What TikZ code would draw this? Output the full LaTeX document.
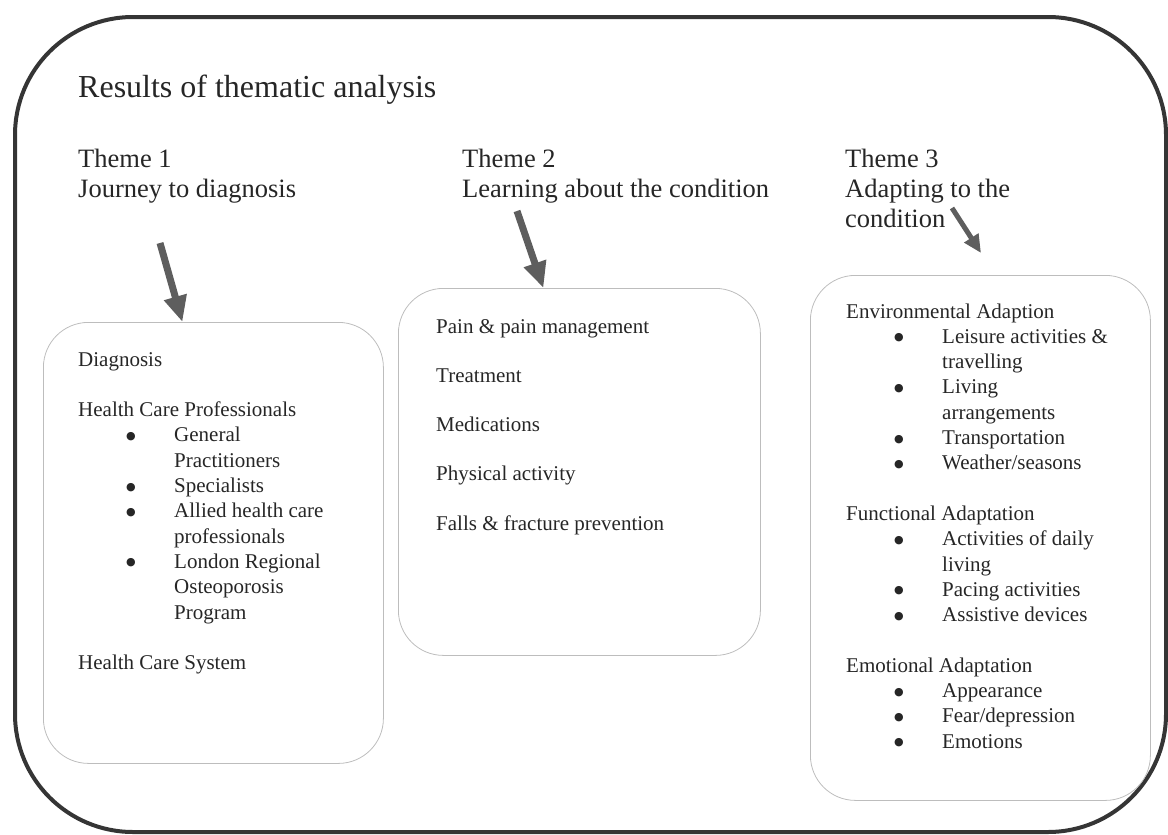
\documentclass[tikz,border=0pt]{standalone}
\usepackage{fontspec}
\setmainfont{Liberation Serif}
\newfontfamily\dotfont{DejaVu Sans}
\usetikzlibrary{arrows.meta, positioning}
\definecolor{framegray}{HTML}{353535}
\definecolor{boxgray}{HTML}{BDBDBD}
\definecolor{arrowgray}{HTML}{5E5E5E}
\definecolor{inkgray}{HTML}{262626}
\newcommand{\lines}[1]{\begin{tabular}[t]{@{}l@{}}#1\end{tabular}}
\newcommand{\itm}{\makebox[96pt][l]{\hspace*{48pt}\raisebox{2.5pt}{\dotfont\fontsize{11}{12}\selectfont ●}}}
\newcommand{\cnt}{\hspace*{96pt}}

\begin{document}
\begin{tikzpicture}[
  x=1pt, y=-1pt,
  frame/.style={draw=framegray, line width=4pt, rounded corners=118pt, anchor=north west, inner sep=0pt},
  themebox/.style={draw=boxgray, line width=0.8pt, rounded corners=45pt, anchor=north west, inner sep=0pt},
  titletext/.style={anchor=base west, inner sep=0pt, text=inkgray, font=\fontsize{32}{38}\selectfont},
  themetext/.style={anchor=base west, inner sep=0pt, text=inkgray, font=\fontsize{26.5}{30}\selectfont},
  listtext/.style={anchor=base west, inner sep=0pt, text=inkgray, font=\fontsize{21}{25.3}\selectfont},
  bigarr/.style={arrowgray, line width=7pt, -{Triangle[length=26pt, width=22pt]}},
  smallarr/.style={arrowgray, line width=5pt, -{Triangle[length=18pt, width=16pt]}},
]
  \useasboundingbox (0,0) rectangle (1168,835);

  % Outer frame and theme boxes
  \node[frame, minimum width=1151, minimum height=815] (frame) at (13,15) {};
  \node[themebox, minimum width=340, minimum height=441] (box1) at (43,322) {};
  \node[themebox, minimum width=362, minimum height=367] (box2) at (398,288) {};
  \node[themebox, minimum width=340, minimum height=525] (box3) at (810,275) {};

  % Headings
  \node[titletext] (title) at (78,97) {Results of thematic analysis};
  \node[themetext] (theme1) at (78,167) {\lines{Theme 1\\Journey to diagnosis}};
  \node[themetext] (theme2) at (462,167) {\lines{Theme 2\\Learning about the condition}};
  \node[themetext] (theme3) at (845,167) {\lines{Theme 3\\Adapting to the\\condition}};

  % Box contents
  \node[listtext] (list1) at (78,366) {\lines{Diagnosis\\[25.3pt]
    Health Care Professionals\\
    \itm General\\
    \cnt Practitioners\\
    \itm Specialists\\
    \itm Allied health care\\
    \cnt professionals\\
    \itm London Regional\\
    \cnt Osteoporosis\\
    \cnt Program\\[25.3pt]
    Health Care System}};
  \node[listtext] (list2) at (436,333) {\lines{Pain \& pain management\\[24pt]
    Treatment\\[24pt]
    Medications\\[24pt]
    Physical activity\\[24pt]
    Falls \& fracture prevention}};
  \node[listtext] (list3) at (846,318) {\lines{Environmental Adaption\\
    \itm Leisure activities \&\\
    \cnt travelling\\
    \itm Living\\
    \cnt arrangements\\
    \itm Transportation\\
    \itm Weather/seasons\\[25.3pt]
    Functional Adaptation\\
    \itm Activities of daily\\
    \cnt living\\
    \itm Pacing activities\\
    \itm Assistive devices\\[25.3pt]
    Emotional Adaptation\\
    \itm Appearance\\
    \itm Fear/depression\\
    \itm Emotions}};

  % Arrows
  \coordinate (a1) at (160,243);
  \coordinate (a2) at (517,211);
  \coordinate (a3) at (952,208);
  \coordinate (a3end) at (981,253);
  \draw[bigarr] (a1) -- ([xshift=-31pt]box1.north);
  \draw[bigarr] (a2) -- ([xshift=-36pt]box2.north);
  \draw[smallarr] (a3) -- (a3end);

\end{tikzpicture}
\end{document}
